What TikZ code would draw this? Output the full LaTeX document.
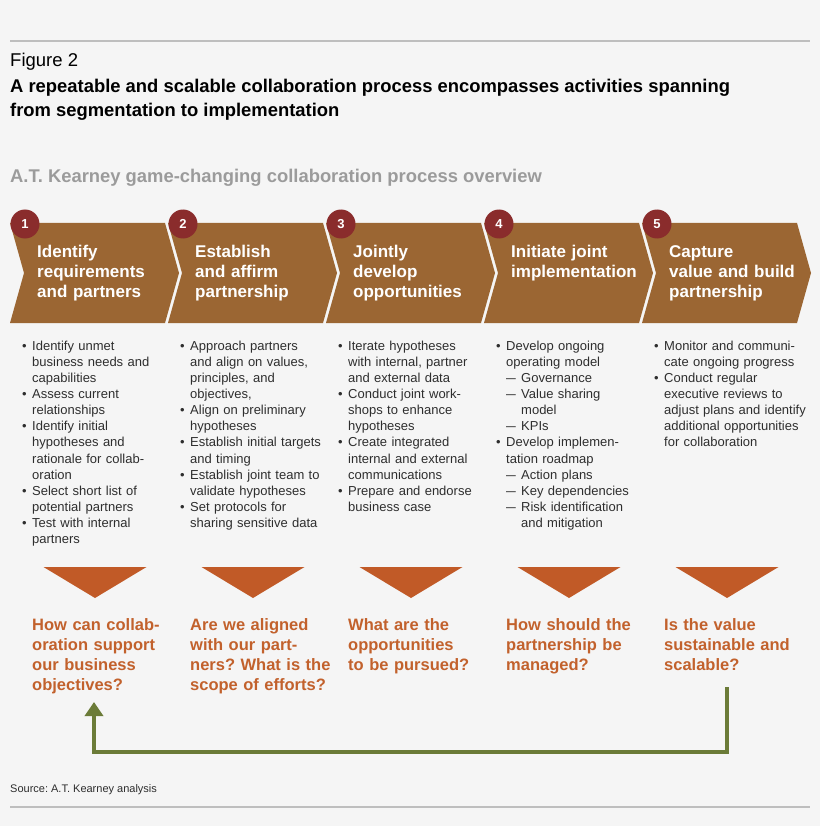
\documentclass[tikz,border=0pt]{standalone}
\usepackage{fontspec}
\usepackage{graphicx}
\setmainfont{Liberation Sans}
\usetikzlibrary{arrows.meta}
\frenchspacing
\definecolor{bgc}{HTML}{F5F5F5}
\definecolor{chev}{HTML}{9B6633}
\definecolor{numc}{HTML}{8A2C2C}
\definecolor{tric}{HTML}{C15A27}
\definecolor{qc}{HTML}{C2612C}
\definecolor{grn}{HTML}{6B7B38}
\definecolor{txt}{HTML}{2E2E2E}
\definecolor{subc}{HTML}{9B9B9B}
\definecolor{rulec}{HTML}{BEBEBE}
\newcommand\bl{\makebox[10pt][l]{\textbullet}}
\newcommand\ci{\hspace*{10pt}}
\newcommand\dl{\ci\makebox[15pt][l]{\scalebox{0.75}[1]{—}}}
\newcommand\di{\ci\hspace*{15pt}}
\tikzset{
  chevshape/.style={fill=chev, draw=none},
  numcirc/.style={circle, fill=numc, minimum size=29pt, inner sep=0pt, text=white, font=\bfseries\fontsize{13}{13}\selectfont},
  ctitle/.style={anchor=base west, text=white, font=\bfseries\fontsize{17}{20}\selectfont, align=left, inner sep=0pt, text width=140pt},
  bullets/.style={anchor=base west, text=txt, font=\fontsize{13}{16.15}\selectfont, align=left, inner sep=0pt, text width=165pt},
  trishape/.style={fill=tric, draw=none},
  quest/.style={anchor=base west, text=qc, font=\bfseries\fontsize{16.5}{20}\selectfont, align=left, inner sep=0pt, text width=150pt},
  fb/.style={draw=grn, line width=3.5pt, -{Triangle[width=18pt,length=14pt]}},
  rulel/.style={draw=rulec, line width=1.4pt},
  plain/.style={anchor=base west, inner sep=0pt}
}
\begin{document}
\begin{tikzpicture}[x=1pt,y=-1pt]
\useasboundingbox (0,0) rectangle (820,826);
\fill[bgc] (0,0) rectangle (820,826);
% rules
\draw[rulel] (10,41) -- (810,41);
\draw[rulel] (10,807) -- (810,807);
% headings
\node[plain, font=\fontsize{18.5}{20}\selectfont, text=black] (fig) at (10,67) {Figure 2};
\node[plain, font=\bfseries\fontsize{18.4}{24}\selectfont, text=black] (t1) at (10,93) {A repeatable and scalable collaboration process encompasses activities spanning};
\node[plain, font=\bfseries\fontsize{18.4}{24}\selectfont, text=black] (t2) at (10,117) {from segmentation to implementation};
\node[plain, font=\bfseries\fontsize{18.4}{24}\selectfont, text=subc] (sub) at (10,183) {A.T. Kearney game-changing collaboration process overview};
% chevrons and triangles
\foreach \i in {0,...,4}{
  \pgfmathsetmacro{\xo}{10+158*\i}
  \fill[chevshape] (\xo,223) -- (\xo+155,223) -- (\xo+169,273) -- (\xo+155,323) -- (\xo,323) -- (\xo+14,273) -- cycle;
  \fill[trishape] (\xo+33.5,567) -- (\xo+136.5,567) -- (\xo+85,598) -- cycle;
}
% number circles
\node[numcirc] (n1) at (25,224) {1};
\node[numcirc] (n2) at (183,224) {2};
\node[numcirc] (n3) at (341,224) {3};
\node[numcirc] (n4) at (499,224) {4};
\node[numcirc] (n5) at (657,224) {5};
% chevron titles
\node[ctitle] (c1) at (37,257) {Identify\\requirements\\and partners};
\node[ctitle] (c2) at (195,257) {Establish\\and affirm\\partnership};
\node[ctitle] (c3) at (353,257) {Jointly\\develop\\opportunities};
\node[ctitle] (c4) at (511,257) {Initiate joint\\implementation};
\node[ctitle] (c5) at (669,257) {Capture\\value and build\\partnership};
% bullet columns
\node[bullets] (b1) at (22,350) {\bl Identify unmet\\\ci business needs and\\\ci capabilities\\\bl Assess current\\\ci relationships\\\bl Identify initial\\\ci hypotheses and\\\ci rationale for collab-\\\ci oration\\\bl Select short list of\\\ci potential partners\\\bl Test with internal\\\ci partners};
\node[bullets] (b2) at (180,350) {\bl Approach partners\\\ci and align on values,\\\ci principles, and\\\ci objectives,\\\bl Align on preliminary\\\ci hypotheses\\\bl Establish initial targets\\\ci and timing\\\bl Establish joint team to\\\ci validate hypotheses\\\bl Set protocols for\\\ci sharing sensitive data};
\node[bullets] (b3) at (338,350) {\bl Iterate hypotheses\\\ci with internal, partner\\\ci and external data\\\bl Conduct joint work-\\\ci shops to enhance\\\ci hypotheses\\\bl Create integrated\\\ci internal and external\\\ci communications\\\bl Prepare and endorse\\\ci business case};
\node[bullets] (b4) at (496,350) {\bl Develop ongoing\\\ci operating model\\\dl Governance\\\dl Value sharing\\\di model\\\dl KPIs\\\bl Develop implemen-\\\ci tation roadmap\\\dl Action plans\\\dl Key dependencies\\\dl Risk identification\\\di and mitigation};
\node[bullets] (b5) at (654,350) {\bl Monitor and communi-\\\ci cate ongoing progress\\\bl Conduct regular\\\ci executive reviews to\\\ci adjust plans and identify\\\ci additional opportunities\\\ci for collaboration};
% questions
\node[quest] (q1) at (32,630) {How can collab-\\oration support\\our business\\objectives?};
\node[quest] (q2) at (190,630) {Are we aligned\\with our part-\\ners? What is the\\scope of efforts?};
\node[quest] (q3) at (348,630) {What are the\\opportunities\\to be pursued?};
\node[quest] (q4) at (506,630) {How should the\\partnership be\\managed?};
\node[quest] (q5) at (664,630) {Is the value\\sustainable and\\scalable?};
% feedback arrow
\coordinate (a5) at (727,687);
\coordinate (lowr) at (727,752);
\coordinate (a1) at (94,702);
\draw[fb] (a5) -- (lowr) -| (a1);
% source
\node[plain, font=\fontsize{11}{13}\selectfont, text=txt] (src) at (10,792) {Source: A.T. Kearney analysis};
\end{tikzpicture}
\end{document}
